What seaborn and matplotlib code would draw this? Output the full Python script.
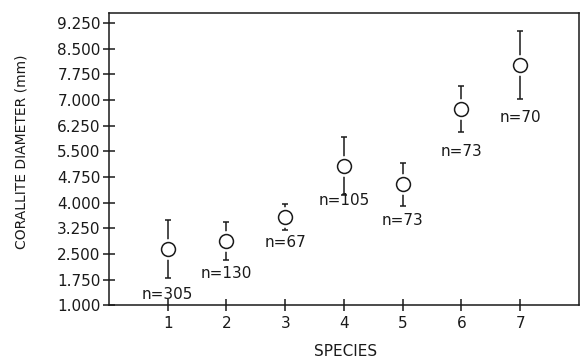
import matplotlib
matplotlib.use("Agg")
import matplotlib.pyplot as plt
import seaborn as sns
import numpy as np
import pandas as pd

species = [1, 2, 3, 4, 5, 6, 7]
means = [2.63, 2.88, 3.58, 5.08, 4.53, 6.74, 8.02]
errs = [0.85, 0.55, 0.37, 0.85, 0.63, 0.67, 1.00]
n_labels = ["n=305", "n=130", "n=67", "n=105", "n=73", "n=73", "n=70"]
label_y = [1.32, 1.94, 2.84, 4.07, 3.47, 5.48, 6.50]
yticks = [1.0, 1.75, 2.5, 3.25, 4.0, 4.75, 5.5, 6.25, 7.0, 7.75, 8.5, 9.25]

df = pd.DataFrame({"species": species, "mean": means, "err": errs})

sns.set_theme(style="ticks")
plt.rcParams["font.family"] = ["DejaVu Sans"]

fig = plt.figure(figsize=(5.83, 3.62), dpi=100)
ax = fig.add_axes([0.187, 0.157, 0.806, 0.807])

ink = "#1a1a1a"
ax.errorbar(df["species"], df["mean"], yerr=df["err"], fmt="none",
            ecolor=ink, elinewidth=1.1, capsize=2, capthick=1.1, zorder=2)
sns.scatterplot(data=df, x="species", y="mean", ax=ax, marker="o", s=220,
                color="white", edgecolor="white", linewidth=0, zorder=3, legend=False)
sns.scatterplot(data=df, x="species", y="mean", ax=ax, marker="o", s=100,
                facecolor="white", edgecolor=ink, linewidth=1.1, zorder=4, legend=False)

for xv, yv, t in zip(species, label_y, n_labels):
    ax.text(xv, yv, t, ha="center", va="center", fontsize=11, color=ink)

ax.set_xlim(0, 8)
ax.set_ylim(1.0, 9.54)
ax.set_xticks(species)
ax.set_xticklabels([str(s) for s in species])
ax.set_yticks(yticks)
ax.set_yticklabels([f"{v:.3f}" for v in yticks])
ax.tick_params(axis="both", direction="inout", length=8, width=1.1,
               colors=ink, labelsize=11, pad=2)
ax.tick_params(axis="x", pad=4)
for sp in ax.spines.values():
    sp.set_visible(True)
    sp.set_color(ink)
    sp.set_linewidth(1.1)

ax.set_xlabel("SPECIES", fontsize=11, color=ink)
ax.set_ylabel("CORALLITE DIAMETER (mm)", fontsize=10, color=ink)
ax.xaxis.set_label_coords(0.503, -0.133)
ax.yaxis.set_label_coords(-0.172, 0.524)
ax.grid(False)

fig.savefig("out.png", dpi=100, facecolor="white")
